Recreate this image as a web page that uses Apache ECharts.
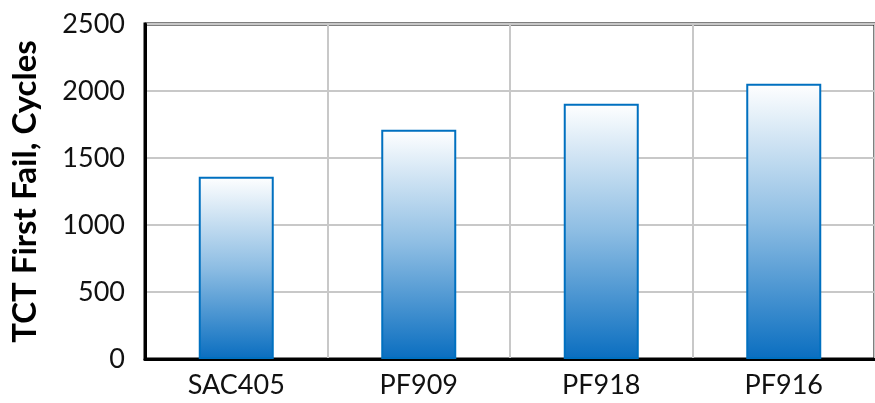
<!DOCTYPE html>
<html>
<head>
<meta charset="utf-8">
<script src="https://cdn.jsdelivr.net/npm/echarts@6/dist/echarts.min.js"></script>
<style>
  html, body { margin: 0; padding: 0; background: #fff; }
  #chart { width: 875px; height: 403px; }
</style>
</head>
<body>
<div id="chart"></div>
<script>
// Thermal cycling test: cycles to first failure per solder alloy
const alloys = ['SAC405', 'PF909', 'PF918', 'PF916'];
const firstFailCycles = [1360, 1710, 1905, 2055];
const yTicks = [0, 500, 1000, 1500, 2000, 2500];

const FONT = 'Lato, "Open Sans", sans-serif';
const chart = echarts.init(document.getElementById('chart'));

chart.setOption({
  animation: false,
  grid: {
    left: 145, top: 24, width: 740, height: 335,
    show: true, borderColor: '#000', borderWidth: 3
  },
  xAxis: {
    type: 'category',
    data: alloys,
    axisLine: { show: true, lineStyle: { color: '#000', width: 3 } },
    axisTick: { show: false },
    axisLabel: { color: '#111', fontFamily: FONT, fontSize: 27, margin: 13 },
    splitLine: { show: true, lineStyle: { color: '#c8c8c8', width: 2 } }
  },
  yAxis: {
    type: 'value',
    min: yTicks[0],
    max: yTicks[yTicks.length - 1],
    interval: 500,
    name: 'TCT First Fail, Cycles',
    nameLocation: 'middle',
    nameGap: 103,
    nameTextStyle: { color: '#000', fontFamily: FONT, fontSize: 33, fontWeight: 'bold' },
    axisLine: { show: true, lineStyle: { color: '#000', width: 3 } },
    axisTick: { show: false },
    axisLabel: {
      color: '#111', fontFamily: FONT, fontSize: 27, margin: 20,
      formatter: v => String(v)
    },
    splitLine: { show: true, lineStyle: { color: '#c8c8c8', width: 2 } }
  },
  series: [{
    type: 'bar',
    data: firstFailCycles,
    barWidth: 75,
    itemStyle: {
      borderColor: '#0070C0',
      borderWidth: 2,
      color: new echarts.graphic.LinearGradient(0, 0, 0, 1, [
        { offset: 0, color: '#ffffff' },
        { offset: 0.5, color: '#8dbde3' },
        { offset: 1, color: '#0a6ec0' }
      ])
    }
  }]
});
</script>
</body>
</html>
